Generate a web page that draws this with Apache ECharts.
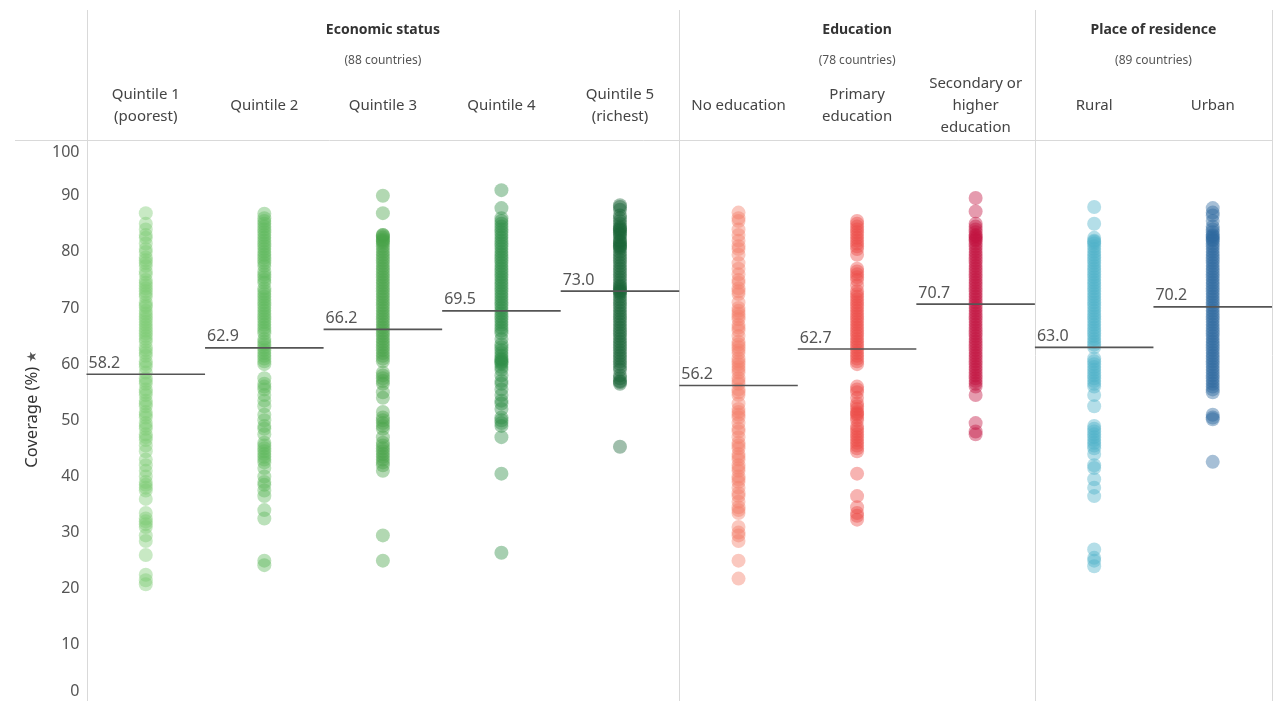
<!DOCTYPE html>
<html>
<head>
<meta charset="utf-8">
<title>Coverage by economic status, education and place of residence</title>
<script src="https://cdn.jsdelivr.net/npm/echarts@6/dist/echarts.min.js"></script>
<style>
  html, body { margin: 0; padding: 0; background: #ffffff; }
  #chart { width: 1281px; height: 701px; }
</style>
</head>
<body>
<div id="chart"></div>
<script>
// Column headers (one per strip)
const categories = [
  'Quintile 1\n(poorest)', 'Quintile 2', 'Quintile 3', 'Quintile 4', 'Quintile 5\n(richest)',
  'No education', 'Primary\neducation', 'Secondary or\nhigher\neducation',
  'Rural', 'Urban'
];

// Group headers: title, subtitle, first column, number of columns
const groupTitles = ['Economic status', 'Education', 'Place of residence'];
const groupSubtitles = ['(88 countries)', '(78 countries)', '(89 countries)'];
const groupStart = [0, 5, 8];
const groupSpan = [5, 3, 2];

// Average coverage per column
const means = [58.2, 62.9, 66.2, 69.5, 73.0, 56.2, 62.7, 70.7, 63.0, 70.2];

// Country coverage values (%) per column
const quintile1 = [86.9, 85.0, 84.0, 83.0, 82.5, 81.5, 80.5, 80.0, 79.0, 78.5, 78.0, 77.5, 76.5, 76.0, 75.0,
  74.5, 74.0, 73.5, 73.0, 72.5, 72.0, 71.0, 70.5, 70.2, 69.5, 69.0, 68.5, 68.0, 67.5, 67.0, 66.5, 66.0, 65.5,
  65.0, 64.5, 64.0, 63.0, 62.5, 62.0, 61.5, 60.5, 60.0, 59.5, 58.5, 57.5, 57.0, 56.5, 55.5, 55.0, 54.5, 53.5,
  53.0, 52.5, 51.5, 51.0, 50.5, 49.5, 49.0, 48.5, 47.5, 47.0, 46.5, 45.5, 44.5, 43.0, 42.0, 41.0, 40.0, 39.0,
  38.5, 38.0, 37.5, 36.0, 33.5, 32.5, 32.0, 31.5, 31.0, 29.5, 28.5, 26.0, 22.5, 21.5, 20.8];
const quintile2 = [86.8, 86.0, 85.5, 85.0, 84.5, 84.0, 83.5, 83.0, 82.5, 82.0, 81.5, 81.0, 80.5, 80.0, 79.5,
  79.0, 78.5, 78.0, 77.5, 76.5, 76.0, 75.5, 75.0, 74.5, 73.5, 73.0, 72.5, 72.0, 71.5, 71.0, 70.5, 70.0, 69.5,
  69.0, 68.5, 68.0, 67.5, 67.0, 66.5, 66.0, 65.5, 64.5, 64.0, 63.5, 63.0, 62.5, 62.0, 61.5, 61.0, 60.5, 60.0,
  57.5, 56.5, 56.0, 55.5, 54.5, 53.5, 52.5, 51.0, 50.0, 49.0, 48.5, 47.5, 46.0, 45.5, 45.0, 44.5, 44.0, 43.5,
  43.0, 42.5, 41.5, 40.0, 39.0, 38.5, 37.5, 36.5, 34.0, 32.5, 25.0, 24.2];
const quintile3 = [90.0, 86.9, 83.0, 83.0, 82.8, 82.5, 82.2, 82.0, 81.8, 81.5, 81.0, 80.5, 80.0, 79.5, 79.0,
  78.5, 78.0, 77.5, 77.0, 76.5, 76.0, 75.5, 75.0, 74.5, 74.0, 73.5, 73.0, 72.5, 72.0, 71.5, 71.0, 70.5, 70.0,
  69.5, 69.0, 68.5, 68.0, 67.5, 67.0, 66.5, 66.0, 65.5, 65.0, 64.5, 64.0, 63.5, 63.0, 62.5, 62.0, 61.5, 61.0,
  60.5, 58.5, 58.0, 57.5, 57.0, 56.5, 55.0, 54.0, 51.5, 50.5, 50.0, 49.5, 49.0, 48.5, 47.0, 46.0, 45.5, 45.0,
  44.5, 44.0, 43.5, 43.0, 42.5, 42.0, 41.0, 29.5, 25.0];
const quintile4 = [91.0, 87.8, 86.0, 85.5, 85.0, 84.5, 84.0, 83.5, 83.0, 82.5, 82.0, 81.5, 81.0, 80.5, 80.0,
  79.5, 79.0, 78.5, 78.0, 77.5, 77.0, 76.5, 76.0, 75.5, 75.0, 74.5, 74.0, 73.5, 73.0, 72.5, 72.0, 71.5, 71.0,
  70.5, 70.0, 69.5, 69.0, 68.5, 68.0, 67.5, 67.0, 66.5, 66.0, 65.5, 64.5, 63.5, 63.0, 62.5, 62.0, 61.5, 61.0,
  60.8, 60.5, 60.3, 60.0, 59.5, 59.0, 58.0, 57.0, 56.5, 55.5, 54.5, 53.5, 53.0, 52.0, 50.5, 50.0, 49.5, 49.0,
  47.0, 40.5, 26.4];
const quintile5 = [88.3, 88.0, 87.5, 86.5, 86.0, 85.5, 85.0, 84.5, 84.2, 84.0, 83.8, 83.5, 83.2, 83.0, 82.5,
  82.0, 81.8, 81.5, 81.2, 81.0, 80.8, 80.5, 80.0, 79.5, 79.0, 78.5, 78.0, 77.5, 77.0, 76.5, 76.0, 75.5, 75.0,
  74.5, 74.0, 73.8, 73.5, 73.2, 73.0, 72.8, 72.5, 72.0, 71.5, 71.0, 70.5, 70.0, 69.5, 69.0, 68.5, 68.0, 67.5,
  67.0, 66.5, 66.0, 65.5, 65.0, 64.5, 64.0, 63.5, 63.0, 62.5, 62.0, 61.5, 61.0, 60.5, 60.0, 59.5, 59.0, 58.0,
  57.5, 57.0, 56.8, 56.5, 45.3];
const noEducation = [87.0, 86.0, 85.5, 84.0, 83.0, 82.0, 81.0, 80.5, 79.5, 78.0, 77.0, 76.0, 75.0, 74.5, 73.5,
  73.0, 72.5, 71.0, 70.0, 69.5, 69.0, 68.5, 68.0, 67.0, 66.5, 66.0, 65.0, 64.0, 63.5, 63.0, 62.5, 62.0, 61.0,
  60.5, 60.0, 59.5, 59.0, 58.5, 57.5, 57.0, 56.5, 55.5, 55.0, 54.5, 53.0, 52.0, 51.5, 51.0, 50.5, 49.5, 48.5,
  48.0, 47.0, 46.0, 45.5, 45.0, 44.0, 43.5, 43.0, 42.0, 41.5, 41.0, 40.0, 39.5, 39.0, 38.0, 37.0, 36.5, 35.5,
  34.5, 34.0, 33.5, 31.0, 30.0, 29.5, 28.5, 25.0, 21.8];
const primaryEducation = [85.5, 85.0, 84.5, 84.0, 83.5, 83.0, 82.5, 82.0, 81.5, 81.0, 80.5, 79.5, 77.0, 76.5,
  76.0, 75.5, 75.0, 74.0, 73.0, 72.5, 72.0, 71.5, 71.0, 70.5, 70.0, 69.5, 69.0, 68.5, 68.0, 67.5, 67.0, 66.5,
  66.0, 65.5, 65.0, 64.5, 64.0, 63.5, 63.0, 62.5, 62.0, 61.5, 61.0, 60.5, 60.0, 56.0, 55.5, 55.0, 54.0, 53.0,
  52.5, 52.0, 51.5, 51.2, 51.0, 50.5, 50.0, 49.0, 48.5, 48.0, 47.5, 47.0, 46.5, 46.0, 45.5, 45.0, 44.5, 40.5,
  36.5, 34.5, 33.5, 33.0, 32.3];
const secondaryEducation = [89.6, 87.2, 85.0, 84.5, 84.0, 83.5, 83.0, 82.8, 82.5, 82.2, 82.0, 81.5, 81.0,
  80.5, 80.0, 79.5, 79.0, 78.5, 78.0, 77.5, 77.0, 76.5, 76.0, 75.5, 75.0, 74.5, 74.0, 73.5, 73.0, 72.5, 72.0,
  71.5, 71.0, 70.5, 70.0, 69.5, 69.0, 68.5, 68.0, 67.5, 67.0, 66.5, 66.0, 65.5, 65.0, 64.5, 64.0, 63.5, 63.0,
  62.5, 62.0, 61.5, 61.0, 60.5, 60.0, 59.5, 59.0, 58.5, 58.0, 57.5, 57.0, 56.5, 56.0, 54.5, 49.5, 48.0, 47.5];
const rural = [88.0, 85.0, 82.5, 82.0, 81.8, 81.5, 81.0, 80.5, 80.0, 79.5, 79.0, 78.5, 78.0, 77.5, 77.0, 76.5,
  76.0, 75.5, 75.0, 74.5, 74.0, 73.5, 73.0, 72.5, 72.0, 71.5, 71.0, 70.5, 70.0, 69.5, 69.0, 68.5, 68.0, 67.5,
  67.0, 66.5, 66.0, 65.5, 65.0, 64.5, 64.0, 63.5, 63.0, 61.0, 60.5, 60.0, 59.5, 59.0, 58.5, 58.0, 57.5, 57.0,
  56.5, 56.0, 54.5, 52.5, 49.0, 48.5, 48.0, 47.5, 47.0, 46.5, 46.0, 45.5, 45.0, 44.0, 42.0, 41.5, 39.5, 38.0,
  36.5, 27.0, 25.5, 25.0, 24.0];
const urban = [87.8, 87.0, 86.5, 85.5, 84.5, 84.0, 83.5, 83.0, 82.8, 82.5, 82.2, 82.0, 81.5, 81.0, 80.5, 80.0,
  79.5, 79.0, 78.5, 78.0, 77.5, 77.0, 76.5, 76.0, 75.5, 75.0, 74.5, 74.0, 73.5, 73.0, 72.5, 72.0, 71.5, 71.0,
  70.5, 70.0, 69.5, 69.0, 68.5, 68.0, 67.5, 67.0, 66.5, 66.0, 65.5, 65.0, 64.5, 64.0, 63.5, 63.0, 62.5, 62.0,
  61.5, 61.0, 60.5, 60.0, 59.5, 59.0, 58.5, 58.0, 57.5, 57.0, 56.5, 56.0, 55.5, 55.0, 51.0, 50.5, 50.2, 42.6];

const columnValues = [quintile1, quintile2, quintile3, quintile4, quintile5,
  noEducation, primaryEducation, secondaryEducation, rural, urban];

// Dot colours per column
const colors = ['#7ccb72', '#5cb85a', '#47a347', '#2e8c45', '#1b6337',
  '#f47c66', '#ec4a45', '#c0103f', '#4db1c8', '#2a679e'];

// Y axis range and tick step
const yMin = 0, yMax = 100, yStep = 10;

// Layout
const W = 1281, H = 701;
const GRID_LEFT = 86.5, GRID_RIGHT = 9, GRID_TOP = 139.6, GRID_HEIGHT = 564.3;
const FONT = 'Noto Sans';
const colW = (W - GRID_LEFT - GRID_RIGHT) / categories.length;
const LINE_COLOR = '#d9d9d9';

const chart = echarts.init(document.getElementById('chart'), null, { renderer: 'canvas' });

// Structural dividers and group headers
const graphics = [];
[0, 5, 8, 10].forEach(function (k) {
  const x = Math.round(GRID_LEFT + k * colW) + 0.5;
  graphics.push({
    type: 'line', silent: true, z: 0,
    shape: { x1: x, y1: 10, x2: x, y2: H },
    style: { stroke: LINE_COLOR, lineWidth: 1 }
  });
});
graphics.push({
  type: 'line', silent: true, z: 0,
  shape: { x1: 15, y1: 140.5, x2: Math.round(GRID_LEFT + 10 * colW) + 0.5, y2: 140.5 },
  style: { stroke: LINE_COLOR, lineWidth: 1 }
});
groupTitles.forEach(function (t, i) {
  const cx = GRID_LEFT + (groupStart[i] + groupSpan[i] / 2) * colW;
  graphics.push({
    type: 'text', silent: true, x: cx, y: 30,
    style: { text: t, fill: '#333', font: 'bold 14px "' + FONT + '"', align: 'center', verticalAlign: 'middle' }
  });
  graphics.push({
    type: 'text', silent: true, x: cx, y: 61,
    style: { text: groupSubtitles[i], fill: '#555', font: '12px "' + FONT + '"', align: 'center', verticalAlign: 'middle' }
  });
});

const scatterSeries = columnValues.map(function (vals, i) {
  return {
    type: 'scatter',
    name: categories[i],
    data: vals.map(function (v) { return [i, v]; }),
    symbol: 'circle',
    symbolSize: 14,
    itemStyle: { color: colors[i], opacity: 0.42 },
    emphasis: { disabled: true },
    z: 2
  };
});

const meanSeries = {
  type: 'custom',
  name: 'Average',
  data: means.map(function (m, i) { return [i, m]; }),
  z: 10,
  silent: true,
  renderItem: function (params, api) {
    const p = api.coord([api.value(0), api.value(1)]);
    const bw = api.size([1, 0])[0];
    const x0 = p[0] - bw / 2, x1 = p[0] + bw / 2;
    return {
      type: 'group',
      children: [
        {
          type: 'line',
          shape: { x1: x0, y1: p[1], x2: x1, y2: p[1] },
          style: { stroke: '#555', lineWidth: 1.7 }
        },
        {
          type: 'text',
          x: x0 + 2, y: p[1] - 3,
          style: {
            text: api.value(1).toFixed(1),
            fill: '#555', font: '16px "' + FONT + '"',
            align: 'left', verticalAlign: 'bottom'
          }
        }
      ]
    };
  }
};

chart.setOption({
  backgroundColor: '#ffffff',
  animation: false,
  grid: { left: GRID_LEFT, right: GRID_RIGHT, top: GRID_TOP, height: GRID_HEIGHT, containLabel: false },
  xAxis: {
    type: 'category',
    position: 'top',
    data: categories,
    boundaryGap: true,
    axisLine: { show: false },
    axisTick: { show: false },
    splitLine: { show: false },
    axisLabel: {
      interval: 0,
      margin: 34,
      verticalAlign: 'middle',
      lineHeight: 22,
      fontSize: 15,
      fontFamily: FONT,
      color: '#444'
    }
  },
  yAxis: {
    type: 'value',
    min: yMin, max: yMax, interval: yStep,
    name: '{t|Coverage (%)} {pin|★}',
    nameLocation: 'middle',
    nameGap: 30,
    nameRotate: 90,
    nameTextStyle: {
      fontSize: 16, fontFamily: FONT, color: '#333',
      padding: [0, 0, 0, 22],
      rich: {
        t: { fontSize: 16.5, fontFamily: FONT, color: '#333' },
        pin: { fontSize: 13, color: '#555', fontFamily: 'DejaVu Sans' }
      }
    },
    axisLine: { show: false },
    axisTick: { show: false },
    splitLine: { show: false },
    axisLabel: {
      margin: 7,
      fontSize: 16,
      fontFamily: FONT,
      color: '#555',
      formatter: function (v) {
        if (v === yMax) return '{top|' + v + '}';
        if (v === yMin) return '{bottom|' + v + '}';
        return String(v);
      },
      rich: {
        top: { fontSize: 16, fontFamily: FONT, color: '#555', padding: [25, 0, 0, 0] },
        bottom: { fontSize: 16, fontFamily: FONT, color: '#555', padding: [0, 0, 19, 0] }
      }
    }
  },
  graphic: graphics,
  series: scatterSeries.concat([meanSeries])
});
</script>
</body>
</html>
